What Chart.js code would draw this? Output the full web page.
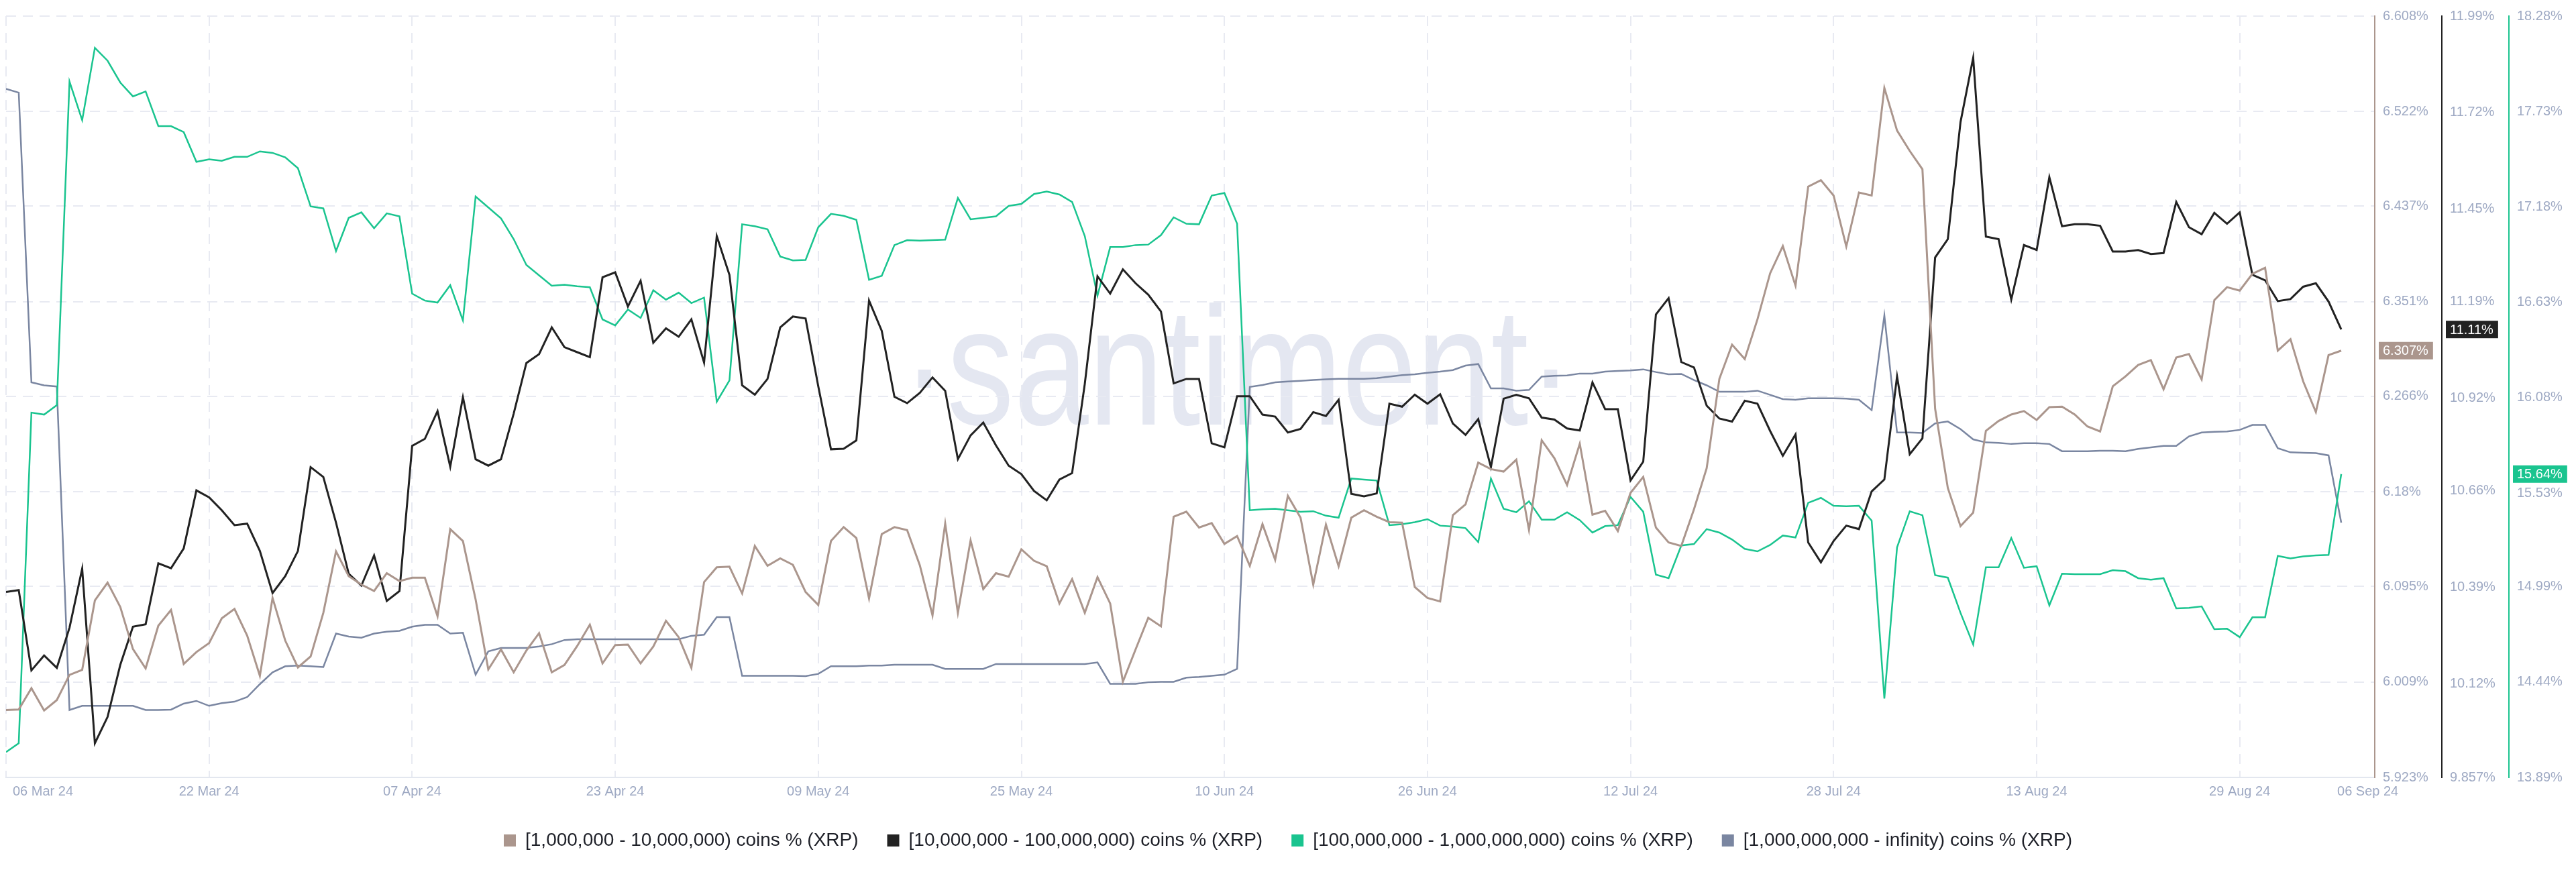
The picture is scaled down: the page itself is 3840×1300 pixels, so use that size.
<!DOCTYPE html>
<html>
<head>
<meta charset="utf-8">
<title>XRP supply distribution</title>
<script src="https://cdn.jsdelivr.net/npm/chart.js@4.4.1/dist/chart.umd.min.js"></script>
<style>
  html, body { margin: 0; padding: 0; background: #fff; }
  #wrap { width: 3840px; height: 1300px; }
</style>
</head>
<body>
<div id="wrap"><canvas id="chart" width="3840" height="1300"></canvas></div>
<script>
// x is the day index, day 0 = 06 Mar 24, day 184 = 06 Sep 24
const tickDays = [0, 16, 32, 48, 64, 80, 96, 112, 128, 144, 160, 176, 184];
const tickLabels = ['06 Mar 24', '22 Mar 24', '07 Apr 24', '23 Apr 24', '09 May 24', '25 May 24',
  '10 Jun 24', '26 Jun 24', '12 Jul 24', '28 Jul 24', '13 Aug 24', '29 Aug 24', '06 Sep 24'];

const brownTicks = [5.923, 6.009, 6.095, 6.18, 6.266, 6.351, 6.437, 6.522, 6.608];
const blackTicks = [9.857, 10.12, 10.39, 10.66, 10.92, 11.19, 11.45, 11.72, 11.99];
const greenTicks = [13.89, 14.44, 14.99, 15.53, 16.08, 16.63, 17.18, 17.73, 18.28];

const seriesNames = [
  '[1,000,000 - 10,000,000) coins % (XRP)',
  '[10,000,000 - 100,000,000) coins % (XRP)',
  '[100,000,000 - 1,000,000,000) coins % (XRP)',
  '[1,000,000,000 - infinity) coins % (XRP)'
];

const coins1m = [
  5.9837,5.9841,6.0033,5.9832,5.9926,6.0153,6.0198,6.0822,6.0983,6.0764,
  6.0385,6.0211,6.0595,6.0737,6.0251,6.0358,6.0439,6.0662,6.0746,6.0506,
  6.0144,6.0845,6.0461,6.0220,6.0318,6.0711,6.1264,6.1041,6.0965,6.0907,
  6.1068,6.0996,6.1027,6.1027,6.0680,6.1464,6.1357,6.0831,6.0202,6.0381,
  6.0176,6.0372,6.0528,6.0176,6.0242,6.0412,6.0604,6.0256,6.0421,6.0425,
  6.0256,6.0407,6.0639,6.0492,6.0216,6.0987,6.1121,6.1126,6.0885,6.1313,
  6.1134,6.1201,6.1143,6.0898,6.0782,6.1357,6.1482,6.1384,6.0840,6.1420,
  6.1482,6.1456,6.1139,6.0688,6.1514,6.0711,6.1362,6.0925,6.1068,6.1036,
  6.1282,6.1179,6.1130,6.0795,6.1014,6.0711,6.1032,6.0795,6.0091,6.0381,
  6.0666,6.0590,6.1576,6.1621,6.1478,6.1518,6.1331,6.1402,6.1134,6.1509,
  6.1188,6.1763,6.1567,6.0965,6.1505,6.1130,6.1567,6.1634,6.1576,6.1527,
  6.1522,6.0943,6.0845,6.0813,6.1589,6.1687,6.2062,6.2004,6.1982,6.2089,
  6.1456,6.2263,6.2102,6.1861,6.2232,6.1594,6.1629,6.1447,6.1790,6.1933,
  6.1478,6.1344,6.1313,6.1643,6.2013,6.2816,6.3124,6.2994,6.3351,6.3766,
  6.4011,6.3654,6.4546,6.4604,6.4466,6.4007,6.4493,6.4466,6.5434,6.5050,
  6.4867,6.4702,6.2548,6.1835,6.1491,6.1612,6.2348,6.2437,6.2495,6.2526,
  6.2446,6.2562,6.2566,6.2495,6.2388,6.2343,6.2749,6.2838,6.2941,6.2985,
  6.2722,6.3008,6.3039,6.2811,6.3525,6.3641,6.3610,6.3761,6.3815,6.3070,
  6.3173,6.2794,6.2517,6.3030,6.3070
];

const coins10m = [
  10.3764,10.3819,10.1570,10.1986,10.1639,10.2764,10.4416,9.9528,10.0264,10.1722,
  10.2792,10.2861,10.4569,10.4430,10.4986,10.6611,10.6416,10.6055,10.5638,10.5680,
  10.4916,10.3736,10.4208,10.4916,10.7263,10.6986,10.5708,10.4278,10.3944,10.4791,
  10.3514,10.3792,10.7860,10.8055,10.8832,10.7277,10.9221,10.7485,10.7305,10.7485,
  10.8763,11.0180,11.0429,11.1179,11.0624,11.0485,11.0346,11.2582,11.2721,11.1763,
  11.2485,11.0749,11.1152,11.0916,11.1402,11.0193,11.3735,11.2651,10.9555,10.9291,
  10.9735,11.1179,11.1485,11.1429,10.9527,10.7763,10.7777,10.8013,11.1929,11.1082,
  10.9235,10.9055,10.9346,10.9777,10.9402,10.7485,10.8152,10.8513,10.7874,10.7305,
  10.7069,10.6597,10.6333,10.6916,10.7097,10.9596,11.2610,11.2124,11.2804,11.2415,
  11.2096,11.1624,10.9610,10.9735,10.9735,10.7930,10.7819,10.9249,10.9249,10.8735,
  10.8680,10.8235,10.8333,10.8805,10.8694,10.9152,10.6513,10.6444,10.6527,10.9041,
  10.8957,10.9291,10.9041,10.9305,10.8485,10.8166,10.8610,10.7263,10.9180,10.9291,
  10.9194,10.8652,10.8596,10.8346,10.8291,10.9638,10.8888,10.8888,10.6888,10.7416,
  11.1540,11.1999,11.0207,11.0055,10.8985,10.8624,10.8541,10.9124,10.9041,10.8277,
  10.7583,10.8180,10.5152,10.4597,10.5194,10.5625,10.5527,10.6583,10.6916,10.9805,
  10.7624,10.8069,11.3137,11.3651,11.6929,11.8734,11.3721,11.3651,11.1957,11.3485,
  11.3346,11.5387,11.4012,11.4068,11.4068,11.4026,11.3304,11.3304,11.3346,11.3235,
  11.3262,11.4693,11.3985,11.3790,11.4387,11.4082,11.4401,11.2651,11.2499,11.1915,
  11.1971,11.2318,11.2415,11.1902,11.112
];

const coins100m = [
  14.0358,14.0872,15.9936,15.9821,16.0364,17.9028,17.6798,18.0971,18.0228,17.8971,
  17.8170,17.8456,17.6455,17.6455,17.6112,17.4398,17.4540,17.4455,17.4683,17.4683,
  17.4998,17.4912,17.4655,17.4026,17.1825,17.1711,16.9253,17.1168,17.1482,17.0568,
  17.1425,17.1254,16.6795,16.6395,16.6281,16.7281,16.5252,17.2397,17.1768,17.1139,
  16.9939,16.8453,16.7853,16.7252,16.7310,16.7224,16.7167,16.5309,16.4966,16.5880,
  16.5395,16.6995,16.6452,16.6852,16.6252,16.6566,16.0564,16.1793,17.0796,17.0682,
  17.0511,16.8939,16.8710,16.8739,17.0625,17.1397,17.1282,17.1054,16.7595,16.7824,
  16.9596,16.9882,16.9853,16.9882,16.9910,17.2311,17.1082,17.1168,17.1254,17.1854,
  17.1968,17.2540,17.2683,17.2511,17.2083,17.0110,16.6681,16.9482,16.9482,16.9596,
  16.9625,17.0168,17.1197,17.0825,17.0796,17.2454,17.2597,17.0825,15.4305,15.4362,
  15.4391,15.4305,15.4219,15.4248,15.3991,15.3876,15.6134,15.6077,15.6020,15.3448,
  15.3505,15.3619,15.3791,15.3419,15.3362,15.3276,15.2476,15.6134,15.4391,15.4191,
  15.4820,15.3762,15.3762,15.4191,15.3734,15.3019,15.3391,15.3448,15.5077,15.4219,
  15.0590,15.0390,15.2276,15.2362,15.3219,15.3019,15.2619,15.2076,15.1933,15.2304,
  15.2847,15.2733,15.4734,15.5020,15.4562,15.4534,15.4562,15.3705,14.3444,15.2162,
  15.4248,15.4019,15.0561,15.0418,14.8389,14.6560,15.1018,15.1018,15.2705,15.0990,
  15.1076,14.8818,15.0647,15.0618,15.0618,15.0618,15.0847,15.0790,15.0390,15.0304,
  15.0390,14.8646,14.8675,14.8760,14.7446,14.7474,14.6988,14.8132,14.8132,15.1676,
  15.1533,15.1647,15.1704,15.1733,15.6392
];

// this series has no visible axis on the chart
const coins1b = [
  65.809,65.799,65.038,65.030,65.027,64.177,64.188,64.188,64.188,64.188,
  64.188,64.177,64.177,64.178,64.194,64.201,64.188,64.195,64.199,64.211,
  64.245,64.276,64.292,64.294,64.292,64.290,64.378,64.370,64.367,64.378,
  64.383,64.385,64.396,64.401,64.401,64.378,64.380,64.270,64.331,64.340,
  64.340,64.340,64.344,64.350,64.361,64.363,64.363,64.363,64.363,64.363,
  64.363,64.363,64.363,64.363,64.372,64.375,64.421,64.421,64.267,64.267,
  64.267,64.267,64.267,64.266,64.272,64.292,64.292,64.292,64.294,64.294,
  64.296,64.296,64.296,64.296,64.285,64.285,64.285,64.285,64.298,64.298,
  64.298,64.298,64.298,64.298,64.298,64.298,64.302,64.246,64.246,64.246,
  64.250,64.251,64.251,64.262,64.264,64.267,64.270,64.285,65.026,65.031,
  65.038,65.040,65.042,65.044,65.046,65.047,65.047,65.047,65.049,65.053,
  65.057,65.059,65.063,65.066,65.070,65.082,65.086,65.022,65.022,65.016,
  65.018,65.053,65.055,65.056,65.061,65.061,65.066,65.068,65.069,65.072,
  65.065,65.059,65.060,65.044,65.030,65.013,65.013,65.013,65.016,65.005,
  64.994,64.992,64.996,64.996,64.996,64.995,64.992,64.965,65.214,64.906,
  64.906,64.905,64.930,64.935,64.915,64.888,64.880,64.879,64.876,64.878,
  64.878,64.876,64.857,64.857,64.857,64.858,64.858,64.857,64.863,64.867,
  64.871,64.871,64.896,64.906,64.908,64.909,64.913,64.926,64.926,64.865,
  64.854,64.853,64.852,64.846,64.669
];

const BROWN = '#ab968d';
const BLACK = '#222222';
const GREEN = '#1ac48f';
const GRAY = '#7a86a1';
const TICK = '#9ea9c3';
const GRID = '#e8eaf2';
const FONT = '"Liberation Sans", Arial, sans-serif';

function points(arr) {
  return arr.map((v, i) => ({ x: i, y: v }));
}

function lineSet(label, arr, color, axis, width) {
  return {
    label: label,
    data: points(arr),
    yAxisID: axis,
    borderColor: color,
    backgroundColor: color,
    borderWidth: width,
    pointRadius: 0,
    tension: 0
  };
}

function rightAxis(min, max, ticks, color, weight, showGrid) {
  return {
    position: 'right',
    min: min,
    max: max,
    weight: weight,
    afterBuildTicks: s => { s.ticks = ticks.map(v => ({ value: v })); },
    afterFit: s => { s.width = 100; },
    grid: { display: showGrid, color: GRID, lineWidth: 2, drawTicks: false },
    border: { display: true, color: color, width: 2, dash: [15, 10] },
    ticks: {
      padding: 12,
      color: TICK,
      font: { size: 20, family: FONT },
      callback: v => v + '%'
    }
  };
}

// faint watermark behind everything
const watermark = {
  id: 'watermark',
  beforeDraw(chart) {
    const ctx = chart.ctx;
    const text = '\u00b7santiment\u00b7';
    ctx.save();
    ctx.font = '250px ' + FONT;
    ctx.fillStyle = '#e4e7f1';
    ctx.textAlign = 'center';
    ctx.textBaseline = 'alphabetic';
    const w = ctx.measureText(text).width;
    ctx.translate(1845, 633);
    ctx.scale(1000 / w, 1);
    ctx.fillText(text, 0, 0);
    ctx.restore();
  }
};

// end labels of the x axis and last-value badges on the y axes
const extras = {
  id: 'extras',
  afterDraw(chart) {
    const ctx = chart.ctx;
    const xs = chart.scales.x;
    ctx.save();
    ctx.font = '20px ' + FONT;
    ctx.textBaseline = 'middle';
    ctx.textAlign = 'left';
    ctx.fillStyle = TICK;
    const ly = xs.top + 21;
    const last = tickDays.length - 1;
    ctx.fillText(tickLabels[0], xs.getPixelForValue(tickDays[0]) + 10, ly);
    ctx.fillText(tickLabels[last], xs.getPixelForValue(tickDays[last]) - 6, ly);

    const badges = [
      ['yBrown', coins1m, BROWN],
      ['yBlack', coins10m, BLACK],
      ['yGreen', coins100m, GREEN]
    ];
    badges.forEach(([id, arr, color]) => {
      const s = chart.scales[id];
      const v = arr[arr.length - 1];
      const py = s.getPixelForValue(v);
      const txt = v.toPrecision(4) + '%';
      const tw = ctx.measureText(txt).width;
      ctx.fillStyle = color;
      ctx.fillRect(s.left + 6, py - 13, tw + 13, 26);
      ctx.fillStyle = '#ffffff';
      ctx.fillText(txt, s.left + 12, py + 1);
    });
    ctx.restore();
  }
};

new Chart(document.getElementById('chart'), {
  type: 'line',
  data: {
    datasets: [
      lineSet(seriesNames[0], coins1m, BROWN, 'yBrown', 3),
      lineSet(seriesNames[1], coins10m, BLACK, 'yBlack', 3),
      lineSet(seriesNames[2], coins100m, GREEN, 'yGreen', 2.5),
      lineSet(seriesNames[3], coins1b, GRAY, 'yGray', 2.5)
    ]
  },
  options: {
    responsive: false,
    animation: false,
    devicePixelRatio: 1,
    layout: { padding: { top: 13.5, bottom: 23, left: 0, right: 0 } },
    scales: {
      x: {
        type: 'linear',
        min: 0,
        max: 186.64,
        afterBuildTicks: s => { s.ticks = tickDays.map(v => ({ value: v })); },
        afterFit: s => { s.height = 37; },
        grid: {
          color: c => (c.tick && c.tick.value === tickDays[tickDays.length - 1]) ? 'rgba(0,0,0,0)' : GRID,
          lineWidth: 2,
          drawTicks: false
        },
        border: { display: true, color: '#e3e7ef', width: 2, dash: [15, 10] },
        ticks: {
          autoSkip: false,
          maxRotation: 0,
          padding: 9,
          color: TICK,
          font: { size: 20, family: FONT },
          callback: v => {
            const i = tickDays.indexOf(v);
            return (i <= 0 || i === tickDays.length - 1) ? '' : tickLabels[i];
          }
        }
      },
      yBrown: rightAxis(5.923, 6.608, brownTicks, BROWN, 1, true),
      yBlack: rightAxis(9.857, 11.99, blackTicks, BLACK, 2, false),
      yGreen: rightAxis(13.89, 18.28, greenTicks, GREEN, 3, false),
      yGray: { display: false, min: 64, max: 66 }
    },
    plugins: {
      tooltip: { enabled: false },
      legend: {
        position: 'bottom',
        labels: {
          boxWidth: 18,
          boxHeight: 18,
          padding: 43,
          color: '#1e2028',
          font: { size: 28, family: FONT },
          generateLabels: chart => Chart.defaults.plugins.legend.labels.generateLabels(chart)
            .map(l => Object.assign(l, { lineWidth: 0 }))
        }
      }
    }
  },
  plugins: [watermark, extras]
});
</script>
</body>
</html>
